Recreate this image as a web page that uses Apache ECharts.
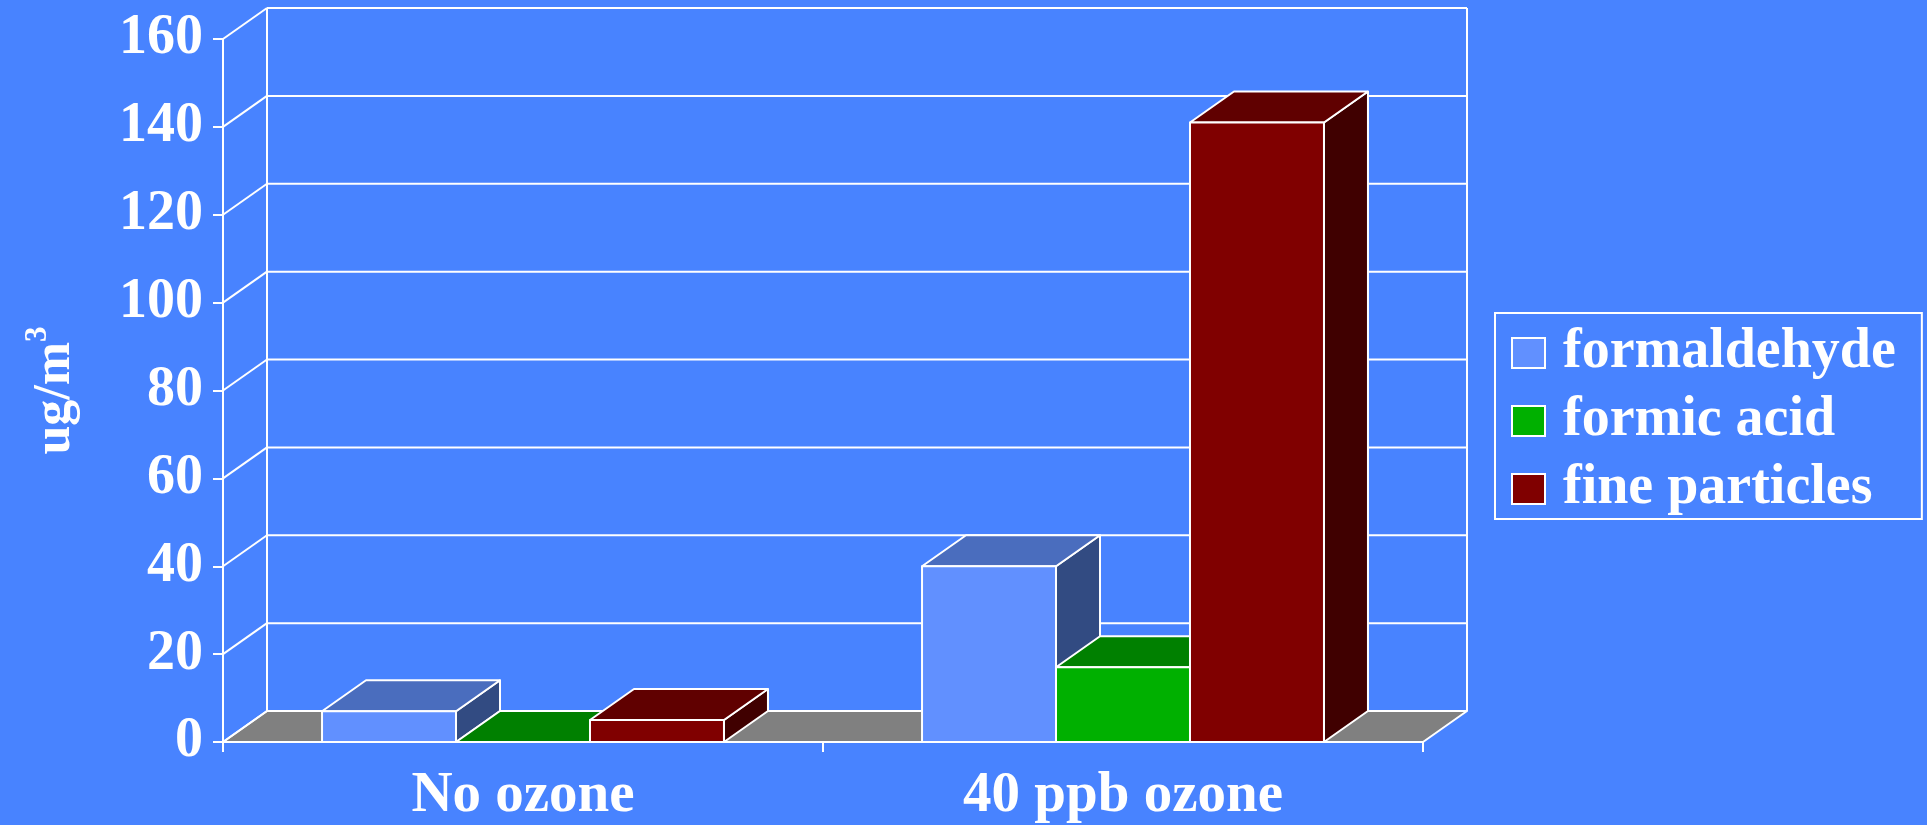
<!DOCTYPE html>
<html>
<head>
<meta charset="utf-8">
<script src="https://cdn.jsdelivr.net/npm/echarts@6/dist/echarts.min.js"></script>
<style>
  html, body { margin: 0; padding: 0; background: #4883FF; }
  #chart { width: 1927px; height: 825px; }
</style>
</head>
<body>
<div id="chart"></div>
<script>
// Concentrations (ug/m3) with and without ozone
const categories = ['No ozone', '40 ppb ozone'];
const seriesNames = ['formaldehyde', 'formic acid', 'fine particles'];
const formaldehyde = [7, 40];
const formicAcid = [0, 17];
const fineParticles = [5, 141];
const yTicks = [0, 20, 40, 60, 80, 100, 120, 140, 160];

const FONT = "'Liberation Serif', 'Times New Roman', serif";
const DX = 44, DY = -31;          // depth offset of the pseudo-3D boxes
const BAR_SHARE = 0.2233;         // bar width as a share of one category band
const EDGE = { stroke: '#ffffff', lineWidth: 2, lineJoin: 'round' };
const FACES = [
  { front: '#6190FF', top: '#4A6DBE', side: '#324B82' },
  { front: '#00B000', top: '#008000', side: '#005C00' },
  { front: '#800000', top: '#600000', side: '#400000' }
];

// one box per value: side, top, then front face
function boxRenderer(k) {
  return function (params, api) {
    const cat = api.value(0), val = api.value(1);
    const base = api.coord([cat, 0]);
    const top = api.coord([cat, val]);
    const w = api.size([1, 0])[0] * BAR_SHARE;
    const x0 = base[0] - 1.5 * w + k * w;
    const x1 = x0 + w;
    const yb = base[1], yt = top[1];
    const c = FACES[k];
    return {
      type: 'group',
      children: [
        { type: 'polygon', shape: { points: [[x1, yt], [x1 + DX, yt + DY], [x1 + DX, yb + DY], [x1, yb]] },
          style: Object.assign({ fill: c.side }, EDGE) },
        { type: 'polygon', shape: { points: [[x0, yt], [x1, yt], [x1 + DX, yt + DY], [x0 + DX, yt + DY]] },
          style: Object.assign({ fill: c.top }, EDGE) },
        { type: 'rect', shape: { x: x0, y: yt, width: w, height: yb - yt },
          style: Object.assign({ fill: c.front }, EDGE) }
      ]
    };
  };
}

// floor, back wall edges and gridlines on the side and back walls
function frameRenderer(params, api) {
  const cs = params.coordSys;
  const left = cs.x, right = cs.x + cs.width;
  const tick = api.value(1);
  const y = api.coord([0, tick])[1];
  const children = [];
  if (tick === 0) {
    const yTop = api.coord([0, yTicks[yTicks.length - 1]])[1];
    children.push(
      { type: 'polygon', shape: { points: [[left, y], [right, y], [right + DX, y + DY], [left + DX, y + DY]] },
        style: Object.assign({ fill: '#808080' }, EDGE) },
      { type: 'line', shape: { x1: left + DX, y1: y + DY, x2: left + DX, y2: yTop + DY }, style: EDGE },
      { type: 'line', shape: { x1: right + DX, y1: y + DY, x2: right + DX, y2: yTop + DY }, style: EDGE }
    );
  }
  children.push(
    { type: 'line', shape: { x1: left, y1: y, x2: left + DX, y2: y + DY }, style: EDGE },
    { type: 'line', shape: { x1: left + DX, y1: y + DY, x2: right + DX, y2: y + DY }, style: EDGE }
  );
  return { type: 'group', children };
}

const valueSets = [formaldehyde, formicAcid, fineParticles];
const boxSeries = seriesNames.map((name, k) => ({
  name,
  type: 'custom',
  z: 3,
  clip: false,
  itemStyle: { color: FACES[k].front },
  renderItem: boxRenderer(k),
  encode: { x: 0, y: 1 },
  data: valueSets[k].map((v, i) => [i, v])
}));

const chart = echarts.init(document.getElementById('chart'), null, { renderer: 'canvas' });
chart.setOption({
  backgroundColor: '#4883FF',
  animation: false,
  grid: { left: 223, right: 504, top: 39, bottom: 81 },
  xAxis: {
    type: 'category',
    data: categories,
    boundaryGap: true,
    axisLine: { lineStyle: { color: '#fff', width: 2 } },
    axisTick: { show: true, length: 10, lineStyle: { color: '#fff', width: 2 } },
    axisLabel: { color: '#fff', fontFamily: FONT, fontWeight: 'bold', fontSize: 57, margin: 26 },
    splitLine: { show: false }
  },
  yAxis: {
    type: 'value',
    min: 0, max: 160, interval: 20,
    name: '{b|ug/m}{s|3}',
    nameLocation: 'middle',
    nameRotate: 90,
    nameGap: 141,
    nameTextStyle: {
      color: '#fff', fontFamily: FONT, fontWeight: 'bold', fontSize: 52,
      rich: {
        b: { color: '#fff', fontFamily: FONT, fontWeight: 'bold', fontSize: 52, lineHeight: 60, verticalAlign: 'bottom' },
        s: { color: '#fff', fontFamily: FONT, fontWeight: 'bold', fontSize: 31, lineHeight: 60, verticalAlign: 'top' }
      }
    },
    axisLine: { show: true, lineStyle: { color: '#fff', width: 2 } },
    axisTick: { show: true, length: 10, lineStyle: { color: '#fff', width: 2 } },
    axisLabel: { color: '#fff', fontFamily: FONT, fontWeight: 'bold', fontSize: 56, margin: 20 },
    splitLine: { show: false }
  },
  legend: {
    data: seriesNames,
    orient: 'vertical',
    left: 1495, top: 313,
    padding: [10, 26, 0, 16],
    itemWidth: 33, itemHeight: 30, itemGap: 8,
    icon: 'rect',
    borderColor: '#fff', borderWidth: 2,
    itemStyle: { borderColor: '#fff', borderWidth: 2 },
    textStyle: { color: '#fff', fontFamily: FONT, fontWeight: 'bold', fontSize: 56, lineHeight: 60, padding: [0, 0, 0, 13] },
    selectedMode: false
  },
  series: [{
    type: 'custom',
    z: 1,
    silent: true,
    clip: false,
    renderItem: frameRenderer,
    encode: { x: 0, y: 1 },
    data: yTicks.map(t => [0, t])
  }].concat(boxSeries)
});
</script>
</body>
</html>
